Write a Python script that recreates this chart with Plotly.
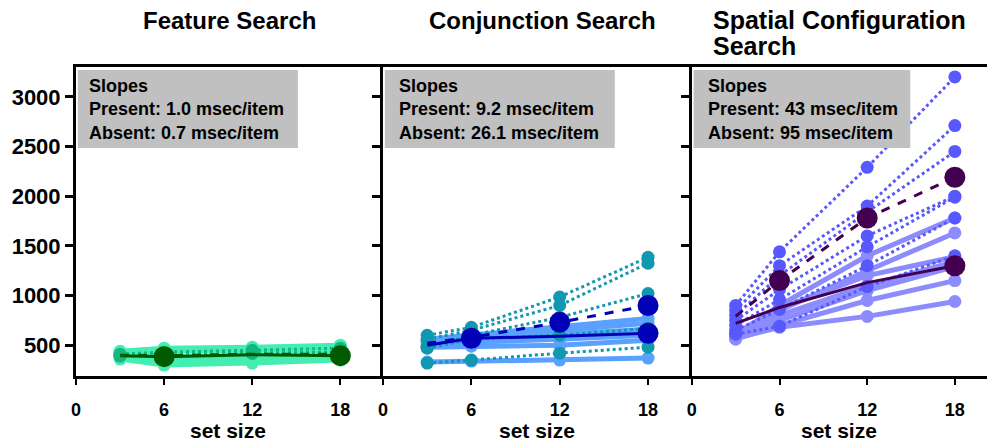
import plotly.graph_objects as go

# ---------------- data ----------------
set_sizes = [3, 6, 12, 18]
x_ticks = [0, 6, 12, 18]
y_ticks = [500, 1000, 1500, 2000, 2500, 3000]
panel_titles = ["Feature Search", "Conjunction Search", "Spatial Configuration", "Search"]
slope_present = ["1.0", "9.2", "43"]
slope_absent = ["0.7", "26.1", "95"]

# Feature search (msec)
feat_present_subj = [
    [400, 380, 400, 410],
    [420, 440, 450, 460],
    [360, 300, 320, 350],
    [440, 470, 480, 500],
    [380, 340, 360, 380],
]
feat_absent_subj = [
    [410, 430, 450, 470],
    [390, 400, 420, 430],
    [400, 390, 420, 420],
]
feat_present_mean = [395, 385, 405, 395]
feat_absent_mean = [400, 395, 410, 410]

# Conjunction search (msec)
conj_present_subj = [
    [330, 340, 350, 370],
    [480, 490, 500, 550],
    [500, 530, 560, 600],
    [520, 560, 610, 660],
    [540, 580, 650, 720],
    [560, 600, 690, 770],
]
conj_absent_subj = [
    [600, 680, 985, 1385],
    [560, 650, 900, 1325],
    [480, 600, 780, 1020],
    [320, 350, 420, 480],
    [470, 560, 600, 670],
]
conj_present_mean = [500, 570, 590, 620]
conj_absent_mean = [520, 580, 730, 900]

# Spatial configuration search (msec)
spat_present_subj = [
    [600, 900, 1400, 1780],
    [580, 850, 1250, 1630],
    [620, 870, 1200, 1390],
    [590, 800, 1100, 1340],
    [570, 750, 1050, 1290],
    [560, 700, 950, 1150],
    [570, 680, 790, 940],
]
spat_absent_subj = [
    [900, 1440, 2290, 3200],
    [850, 1300, 1900, 2710],
    [800, 1200, 1840, 2450],
    [750, 1060, 1600, 2000],
    [700, 960, 1490, 1990],
    [650, 860, 1300, 1780],
    [610, 690, 1090, 1400],
]
spat_present_mean = [720, 880, 1130, 1300]
spat_absent_mean = [790, 1150, 1780, 2190]

panels = [
    (feat_present_subj, feat_absent_subj, feat_present_mean, feat_absent_mean),
    (conj_present_subj, conj_absent_subj, conj_present_mean, conj_absent_mean),
    (spat_present_subj, spat_absent_subj, spat_present_mean, spat_absent_mean),
]

# ---------------- styles ----------------
colors = [
    dict(pres="#44eeb0", abs="#12b884", mean="#005a00"),
    dict(pres="#5aa0ff", abs="#1098b0", mean="#0000b8"),
    dict(pres="#8c8cff", abs="#5858ff", mean="#440050"),
]
big_present_idx = [[1, 3], [1, 3], [3]]
big_absent_idx = [[], [2, 3], [1, 2, 3]]
x_ranges = [[0, 20.7], [0, 20.85], [0, 20.2]]
domains = [[0.0, 0.3337], [0.337, 0.674], [0.676, 1.0]]
FONT = "Liberation Sans, Arial, sans-serif"
box_text_x = [0.036, 0.047, 0.047]
box_right = [0.73, 0.755, 0.74]

fig = go.Figure()

for p, (pres, absn, pmean, amean) in enumerate(panels):
    xa = "x" if p == 0 else f"x{p+1}"
    ya = "y" if p == 0 else f"y{p+1}"
    c = colors[p]
    for s in pres:
        fig.add_trace(go.Scatter(x=set_sizes, y=s, mode="lines+markers", xaxis=xa, yaxis=ya,
                                 line=dict(color=c["pres"], width=5),
                                 marker=dict(color=c["pres"], size=13), showlegend=False))
    for s in absn:
        fig.add_trace(go.Scatter(x=set_sizes, y=s, mode="lines+markers", xaxis=xa, yaxis=ya,
                                 line=dict(color=c["abs"], width=3, dash="dot"),
                                 marker=dict(color=c["abs"], size=13), showlegend=False))
    fig.add_trace(go.Scatter(x=set_sizes, y=pmean, mode="lines", xaxis=xa, yaxis=ya,
                             line=dict(color=c["mean"], width=3), showlegend=False))
    fig.add_trace(go.Scatter(x=set_sizes, y=amean, mode="lines", xaxis=xa, yaxis=ya,
                             line=dict(color=c["mean"], width=3, dash="dash"), showlegend=False))
    bx = [set_sizes[i] for i in big_present_idx[p]] + [set_sizes[i] for i in big_absent_idx[p]]
    by = [pmean[i] for i in big_present_idx[p]] + [amean[i] for i in big_absent_idx[p]]
    fig.add_trace(go.Scatter(x=bx, y=by, mode="markers", xaxis=xa, yaxis=ya,
                             marker=dict(color=c["mean"], size=21), showlegend=False))

    axis_common = dict(showline=True, linecolor="black", linewidth=3, ticks="outside",
                       tickcolor="black", showgrid=False, zeroline=False)
    fig.update_layout(**{
        ("xaxis" if p == 0 else f"xaxis{p+1}"): dict(
            axis_common, domain=domains[p], range=x_ranges[p], tickvals=x_ticks,
            ticklen=6, tickwidth=2, mirror=True, anchor=ya, ticklabelstandoff=9,
            tickfont=dict(family=FONT, size=18, color="black", weight="bold")),
        ("yaxis" if p == 0 else f"yaxis{p+1}"): dict(
            axis_common, domain=[0, 1], range=[190, 3300], tickvals=y_ticks,
            ticklen=8, tickwidth=3, anchor=xa, showticklabels=(p == 0),
            tickfont=dict(family=FONT, size=22, color="black", weight="bold")),
    })
    # grey slope box
    fig.add_shape(type="rect", xref=f"{xa} domain", yref=f"{ya} domain",
                  x0=0.006, x1=box_right[p], y0=0.738, y1=0.99,
                  fillcolor="#c0c0c0", line=dict(width=0), layer="above")
    fig.add_annotation(xref=f"{xa} domain", yref=f"{ya} domain", x=box_text_x[p], y=0.977,
                       xanchor="left", yanchor="top", align="left", showarrow=False,
                       text=f"Slopes<br>Present: {slope_present[p]} msec/item<br>Absent: {slope_absent[p]} msec/item",
                       font=dict(family=FONT, size=18, color="black", weight="bold"))
    # x-axis title
    fig.add_annotation(xref=f"{xa} domain", yref="paper", x=0.5, y=-0.175, yanchor="middle",
                       showarrow=False, text="set size",
                       font=dict(family=FONT, size=21, color="black", weight="bold"))

# panel titles
title_font = dict(family=FONT, size=24, color="black", weight="bold")
fig.add_annotation(xref="paper", yref="paper", x=0.169, y=1.152, xanchor="center", yanchor="middle",
                   showarrow=False, text=panel_titles[0], font=title_font)
fig.add_annotation(xref="paper", yref="paper", x=0.5126, y=1.152, xanchor="center", yanchor="middle",
                   showarrow=False, text=panel_titles[1], font=title_font)
fig.add_annotation(xref="paper", yref="paper", x=0.697, y=1.152, xanchor="left", yanchor="middle",
                   showarrow=False, text=panel_titles[2], font=dict(title_font, size=25))
fig.add_annotation(xref="paper", yref="paper", x=0.697, y=1.068, xanchor="left", yanchor="middle",
                   showarrow=False, text=panel_titles[3], font=dict(title_font, size=25))

fig.update_layout(width=987, height=443, margin=dict(l=76, r=0, t=67, b=67),
                  plot_bgcolor="white", paper_bgcolor="white")

fig.write_html("out.html", config={"displayModeBar": False},
               post_script="document.body.style.margin='0';")
